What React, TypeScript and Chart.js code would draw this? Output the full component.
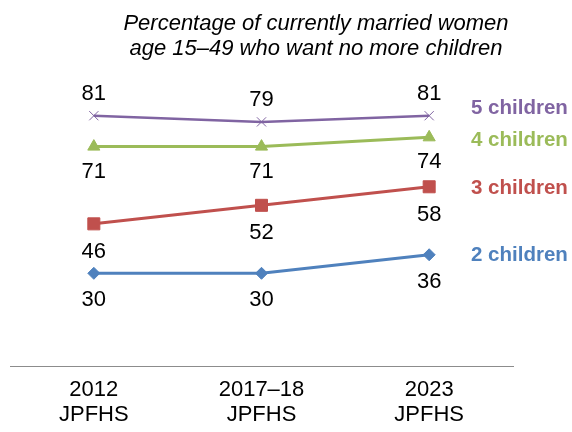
import React, { useEffect, useRef } from "react";
import { Chart, registerables } from "chart.js";

Chart.register(...registerables);

const categories = [["2012", "JPFHS"], ["2017–18", "JPFHS"], ["2023", "JPFHS"]];
const seriesNames = ["5 children", "4 children", "3 children", "2 children"];
const fiveChildren = [81, 79, 81];
const fourChildren = [71, 71, 74];
const threeChildren = [46, 52, 58];
const twoChildren = [30, 30, 36];
const titleLines = ["Percentage of currently married women", "age 15–49 who want no more children"];

const FONT = '"Liberation Sans", Arial, Helvetica, sans-serif';
const colors = ["#8064A2", "#9BBB59", "#C0504D", "#4F81BD"];
const markers = ["crossRot", "triangle", "rect", "rectRot"];
const markerRadius = [6.5, 7, 8.5, 6];
const labelOffsets = [-22, 25, 28, 27];
const nameOffsets = [-7, 3, 2, 1];

const textPlugin = {
  id: "textPlugin",
  afterDatasetsDraw(chart: any) {
    const ctx = chart.ctx;
    ctx.save();
    // title
    ctx.fillStyle = "#000";
    ctx.font = `italic 22px ${FONT}`;
    ctx.textAlign = "center";
    ctx.textBaseline = "alphabetic";
    ctx.fillText(titleLines[0], 316, 30);
    ctx.fillText(titleLines[1], 316, 55);
    // data labels
    chart.data.datasets.forEach((ds: any, di: number) => {
      const meta = chart.getDatasetMeta(di);
      ctx.font = `22px ${FONT}`;
      ctx.fillStyle = "#000";
      ctx.textAlign = "center";
      ctx.textBaseline = "middle";
      meta.data.forEach((pt: any, i: number) => {
        ctx.fillText(String(ds.data[i]), pt.x, pt.y + labelOffsets[di]);
      });
      const last = meta.data[meta.data.length - 1];
      ctx.font = `bold 20.5px ${FONT}`;
      ctx.fillStyle = colors[di];
      ctx.textAlign = "left";
      ctx.fillText(ds.label, 471, last.y + nameOffsets[di]);
    });
    ctx.restore();
  },
};

export default function App() {
  const ref = useRef<HTMLCanvasElement>(null);
  useEffect(() => {
    if (!ref.current) return;
    const series = [fiveChildren, fourChildren, threeChildren, twoChildren];
    const chart = new Chart(ref.current, {
      type: "line",
      data: {
        labels: categories,
        datasets: series.map((d, i) => ({
          label: seriesNames[i],
          data: d,
          borderColor: colors[i],
          backgroundColor: colors[i],
          borderWidth: i === 0 ? 2.5 : 3,
          pointStyle: markers[i],
          pointRadius: markerRadius[i],
          pointBorderWidth: 1,
          pointBorderColor: colors[i],
          pointBackgroundColor: colors[i],
          fill: false,
          tension: 0,
        })),
      },
      options: {
        animation: false,
        responsive: false,
        maintainAspectRatio: false,
        layout: { padding: { left: 10, right: 59, top: 57, bottom: 5 } },
        plugins: {
          legend: { display: false },
          title: { display: false },
          tooltip: { enabled: false },
        },
        scales: {
          x: {
            type: "category",
            offset: true,
            grid: { display: false, drawTicks: false },
            border: { display: true, color: "#8c8c8c", width: 1 },
            afterFit: (s: any) => {
              s.height = 61;
            },
            ticks: {
              color: "#000",
              padding: 11,
              font: { family: FONT, size: 22, lineHeight: 1.15 },
              maxRotation: 0,
              autoSkip: false,
            },
          },
          y: {
            display: false,
            min: 0,
            max: 100,
          },
        },
      },
      plugins: [textPlugin],
    });
    return () => chart.destroy();
  }, []);
  return (
    <div style={{ position: "fixed", left: 0, top: 0, width: 572, height: 432, background: "#fff" }}>
      <canvas ref={ref} width={572} height={432} style={{ display: "block" }} />
    </div>
  );
}
